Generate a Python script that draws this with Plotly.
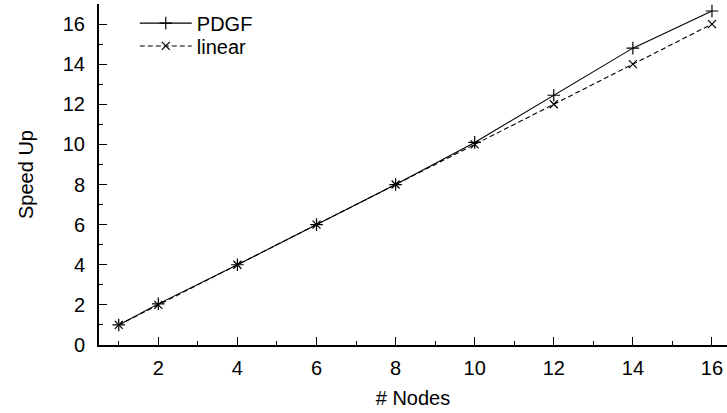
import plotly.graph_objects as go

nodes = [1, 2, 4, 6, 8, 10, 12, 14, 16]
pdgf = [1.0, 2.05, 4.0, 6.0, 8.0, 10.1, 12.45, 14.8, 16.65]
linear = [1, 2, 4, 6, 8, 10, 12, 14, 16]

x_ticks = [2, 4, 6, 8, 10, 12, 14, 16]
x_minor = [1, 3, 5, 7, 9, 11, 13, 15]
y_ticks = [0, 2, 4, 6, 8, 10, 12, 14, 16]
y_minor = [1, 3, 5, 7, 9, 11, 13, 15]

FONT = "Liberation Sans, Arial, Helvetica, sans-serif"
FS = 20

fig = go.Figure()
fig.add_trace(go.Scatter(
    x=nodes, y=pdgf, name="PDGF", mode="lines+markers", legend="legend",
    line=dict(color="black", width=1.1),
    marker=dict(symbol="cross-thin-open", size=9, line=dict(color="black", width=1.2)),
))
fig.add_trace(go.Scatter(
    x=nodes, y=linear, name="linear", mode="lines+markers", legend="legend2",
    line=dict(color="black", width=1.1, dash="5px,3px"),
    marker=dict(symbol="x-thin-open", size=8, line=dict(color="black", width=1.2)),
))

axis_common = dict(
    showgrid=False, zeroline=False, showline=True, linecolor="black", linewidth=2,
    ticks="inside", ticklen=8, tickwidth=1.2, tickcolor="black",
    tickfont=dict(family=FONT, size=FS, color="black"),
    mirror=False,
)

fig.update_xaxes(
    range=[0.5, 16.38], tickvals=x_ticks,
    minor=dict(tickvals=x_minor, ticks="inside", ticklen=4,
               tickwidth=1.2, tickcolor="black"),
    ticklabelstandoff=4,
    title=dict(text="# Nodes", standoff=13, font=dict(family=FONT, size=FS, color="black")),
    **axis_common,
)
fig.update_yaxes(
    range=[0, 17], tickvals=y_ticks,
    minor=dict(tickvals=y_minor, ticks="inside", ticklen=4,
               tickwidth=1.2, tickcolor="black"),
    ticklabelstandoff=8,
    title=dict(text="Speed Up", standoff=24, font=dict(family=FONT, size=FS, color="black")),
    **axis_common,
)

leg_common = dict(xanchor="left", yanchor="middle", bgcolor="rgba(0,0,0,0)",
                  font=dict(family=FONT, size=FS, color="black"), itemwidth=52)

fig.update_layout(
    template="none",
    width=727, height=413,
    margin=dict(l=99, r=0, t=4, b=68),
    paper_bgcolor="white", plot_bgcolor="white",
    showlegend=True,
    legend=dict(x=0.057, y=0.944, **leg_common),
    legend2=dict(x=0.057, y=0.877, **leg_common),
    font=dict(family=FONT, size=FS, color="black"),
)

fig.write_html("out.html")
